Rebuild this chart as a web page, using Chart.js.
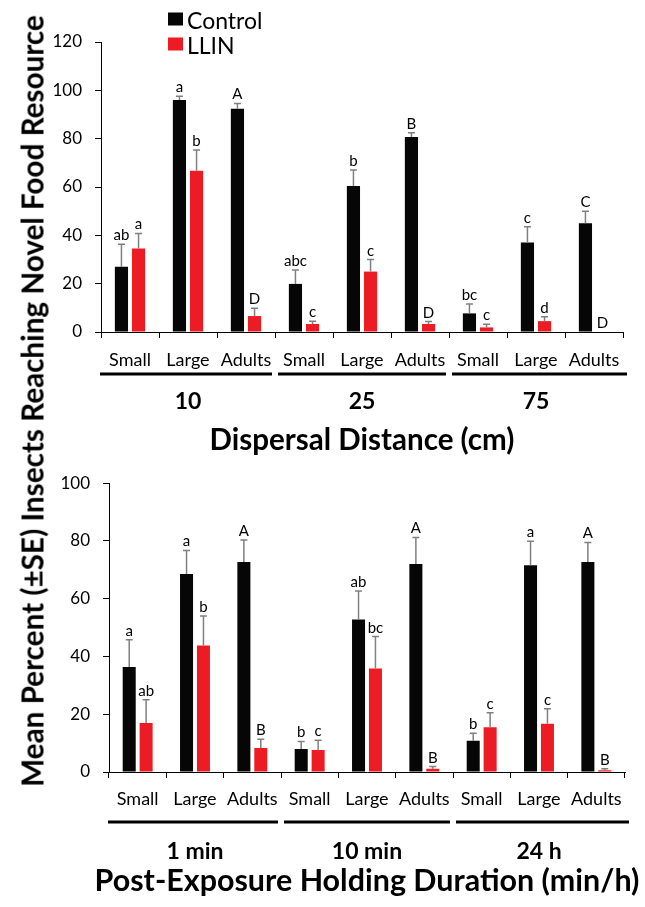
<!DOCTYPE html>
<html>
<head>
<meta charset="utf-8">
<script src="https://cdn.jsdelivr.net/npm/chart.js@4/dist/chart.umd.min.js"></script>
<style>
  html, body { margin: 0; padding: 0; background: #fff; }
  #wrap { position: relative; width: 645px; height: 907px; overflow: hidden; }
  #topCanvas { position: absolute; left: 0; top: 0; }
  #botCanvas { position: absolute; left: 0; top: 460px; }
  #yTitle {
    position: absolute; left: 32px; top: 401px;
    transform: translate(-50%, -50%) rotate(-90deg);
    white-space: nowrap; font-family: Lato, sans-serif; font-weight: bold; color: #000;
  }
</style>
</head>
<body>
<div id="wrap">
  <canvas id="topCanvas" width="645" height="460"></canvas>
  <canvas id="botCanvas" width="645" height="447"></canvas>
  <div id="yTitle">Mean Percent (±SE) Insects Reaching Novel Food Resource</div>
</div>
<script>
// categories and groups
const categories = ['Small', 'Large', 'Adults', 'Small', 'Large', 'Adults', 'Small', 'Large', 'Adults'];
const distanceGroups = ['10', '25', '75'];
const durationGroups = ['1 min', '10 min', '24 h'];
const seriesNames = ['Control', 'LLIN'];

// top panel: dispersal distance
const distControl   = [27.0, 96.0, 92.4, 19.9, 60.4, 80.7, 7.7, 37.0, 45.0];
const distControlSE = [9.3, 1.6, 2.2, 5.8, 6.6, 1.8, 3.9, 6.6, 5.0];
const distLLIN      = [34.6, 66.7, 6.6, 3.3, 25.0, 3.3, 1.9, 4.5, 0];
const distLLINSE    = [6.2, 8.6, 3.2, 1.2, 5.0, 1.0, 1.3, 1.8, 0];
const distControlLetters = ['ab', 'a', 'A', 'abc', 'b', 'B', 'bc', 'c', 'C'];
const distLLINLetters    = ['a', 'b', 'D', 'c', 'c', 'D', 'c', 'd', 'D'];

// bottom panel: post-exposure holding duration
const durControl   = [36.4, 68.6, 72.7, 8.0, 52.8, 72.0, 10.8, 71.6, 72.7];
const durControlSE = [9.4, 8.1, 7.6, 2.6, 9.9, 9.2, 2.6, 8.3, 6.8];
const durLLIN      = [17.0, 43.8, 8.3, 7.6, 35.8, 1.1, 15.5, 16.7, 0.6];
const durLLINSE    = [8.0, 10.2, 3.0, 3.4, 11.1, 0.8, 5.0, 5.2, 0.5];
const durControlLetters = ['a', 'a', 'A', 'b', 'ab', 'A', 'b', 'a', 'A'];
const durLLINLetters    = ['ab', 'b', 'B', 'c', 'bc', 'B', 'c', 'c', 'B'];

const colors = ['#060606', '#ed1c24'];

// font size that makes a string a given width
function fitFont(text, weight, target) {
    const c = document.createElement('canvas').getContext('2d');
    c.font = weight + ' 100px Lato';
    return 100 * target / c.measureText(text).width;
}

document.getElementById('yTitle').style.fontSize =
    fitFont(document.getElementById('yTitle').textContent, 'bold', 772) + 'px';

const extras = {
    id: 'extras',
    afterDatasetsDraw(chart, args, opts) {
        const ctx = chart.ctx;
        const yScale = chart.scales.y;
        chart.data.datasets.forEach((ds, di) => {
            chart.getDatasetMeta(di).data.forEach((bar, i) => {
                const se = opts.errors[di][i];
                const yTop = yScale.getPixelForValue(ds.data[i] + se);
                ctx.save();
                if (se > 0) {
                    ctx.strokeStyle = '#808080';
                    ctx.lineWidth = 1.5;
                    ctx.beginPath();
                    ctx.moveTo(bar.x, bar.y);
                    ctx.lineTo(bar.x, yTop);
                    ctx.moveTo(bar.x - 3.5, yTop);
                    ctx.lineTo(bar.x + 3.5, yTop);
                    ctx.stroke();
                }
                ctx.fillStyle = '#000';
                ctx.font = '15px Lato';
                ctx.textAlign = 'center';
                ctx.textBaseline = 'alphabetic';
                ctx.fillText(opts.letters[di][i], bar.x, yTop - 4);
                ctx.restore();
            });
        });
    },
    afterDraw(chart, args, opts) {
        const ctx = chart.ctx;
        const x = chart.scales.x;
        const catW = x.getPixelForValue(1) - x.getPixelForValue(0);
        ctx.save();
        ctx.fillStyle = '#000';
        ctx.strokeStyle = '#000';
        opts.groups.forEach((g, gi) => {
            const left = x.getPixelForValue(gi * 3) - catW / 2;
            const right = left + 3 * catW;
            ctx.lineWidth = 3;
            ctx.beginPath();
            ctx.moveTo(left + (gi === 0 ? -1 : 3), opts.lineY);
            ctx.lineTo(right - (gi === 2 ? -4 : 3), opts.lineY);
            ctx.stroke();
            ctx.font = 'bold 23px Lato';
            ctx.textAlign = 'center';
            ctx.textBaseline = 'middle';
            ctx.fillText(g, (left + right) / 2, opts.groupY);
        });
        const size = fitFont(opts.title, 'bold', opts.titleWidth);
        ctx.font = 'bold ' + size + 'px Lato';
        ctx.textAlign = 'center';
        ctx.textBaseline = 'middle';
        ctx.fillText(opts.title, (chart.chartArea.left + chart.chartArea.right) / 2, opts.titleY);

        if (opts.legend) {
            ctx.font = '23px Lato';
            ctx.textAlign = 'left';
            chart.data.datasets.forEach((ds, di) => {
                const yc = 19 + di * 25;
                ctx.fillStyle = ds.backgroundColor;
                ctx.fillRect(168, yc - 6.5, 15, 13);
                ctx.fillStyle = '#000';
                ctx.fillText(ds.label, 187, yc + 3);
            });
        }
        ctx.restore();
    }
};

function makeChart(id, control, llin, opts) {
    return new Chart(document.getElementById(id), {
        type: 'bar',
        data: {
            labels: categories,
            datasets: [
                { label: seriesNames[0], data: control, backgroundColor: colors[0] },
                { label: seriesNames[1], data: llin, backgroundColor: colors[1] }
            ]
        },
        options: {
            responsive: false,
            animation: false,
            categoryPercentage: 0.59,
            barPercentage: 0.77,
            layout: { padding: { top: opts.padTop, right: opts.padRight, left: 0, bottom: 0 } },
            plugins: {
                legend: { display: false },
                tooltip: { enabled: false },
                extras: opts.extras
            },
            scales: {
                x: {
                    grid: { drawOnChartArea: false, tickLength: 6, color: '#000' },
                    border: { color: '#000', width: 1 },
                    ticks: { color: '#000', font: { family: 'Lato', size: 18 }, padding: opts.xPad, maxRotation: 0 },
                    afterFit: s => { s.height = opts.xHeight; }
                },
                y: {
                    min: 0, max: opts.yMax,
                    grid: { drawOnChartArea: false, tickLength: 6, color: '#000' },
                    border: { color: '#000', width: 1 },
                    ticks: { stepSize: 20, color: '#000', font: { family: 'Lato', size: 17 }, padding: 13 },
                    afterFit: s => { s.width = opts.yWidth; }
                }
            }
        },
        plugins: [extras]
    });
}

makeChart('topCanvas', distControl, distLLIN, {
    padTop: 42, padRight: 22, yWidth: 101, xHeight: 128, xPad: 11, yMax: 120,
    extras: {
        errors: [distControlSE, distLLINSE],
        letters: [distControlLetters, distLLINLetters],
        groups: distanceGroups,
        lineY: 374, groupY: 402, titleY: 440,
        title: 'Dispersal Distance (cm)', titleWidth: 305,
        legend: true
    }
});

makeChart('botCanvas', durControl, durLLIN, {
    padTop: 18, padRight: 20, yWidth: 109, xHeight: 135, xPad: 10, yMax: 100,
    extras: {
        errors: [durControlSE, durLLINSE],
        letters: [durControlLetters, durLLINLetters],
        groups: durationGroups,
        lineY: 362, groupY: 392, titleY: 421,
        title: 'Post-Exposure Holding Duration (min/h)', titleWidth: 545,
        legend: false
    }
});
</script>
</body>
</html>
